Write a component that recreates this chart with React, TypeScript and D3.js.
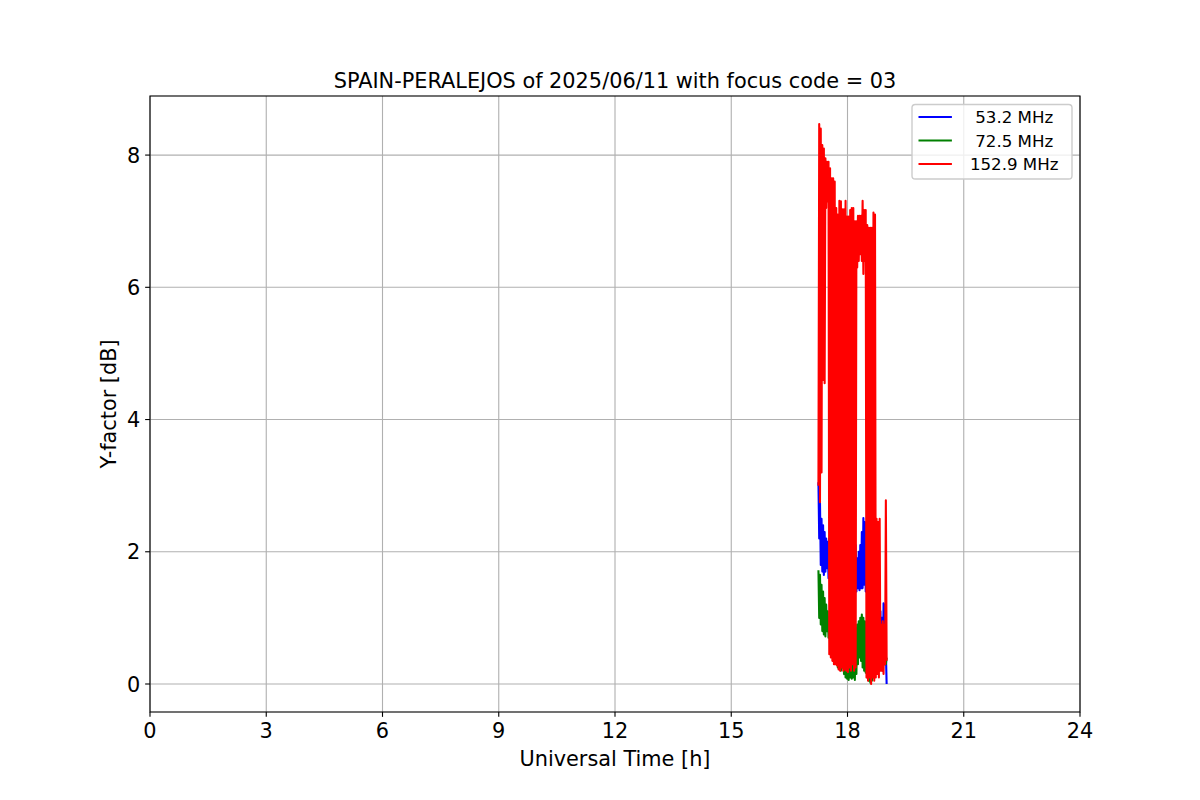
import React from "react";
import * as d3 from "d3";

// Sampling: first sample time (h) and interval between samples (h)
const T0 = 17.25;
const DT = 0.02;

const seriesNames = ["  53.2 MHz", "  72.5 MHz", " 152.9 MHz"];
const seriesColors = ["#0000ff", "#008000", "#ff0000"];

const f053 = [
  3.05, 2.2, 2.75, 1.8, 2.5, 1.7, 2.4, 1.65, 2.3, 1.7,
  2.2, 1.75, 2.15, 1.6, 2.2, 1.5, 2.1, 1.45, 2.0, 1.4,
  2.1, 1.35, 2.0, 1.3, 1.95, 1.25, 2.0, 1.2, 1.9, 1.15,
  2.0, 1.1, 2.13, 1.1, 2.0, 1.05, 2.1, 1.1, 2.2, 1.15,
  2.3, 1.2, 2.53, 1.25, 2.3, 1.3, 2.2, 1.35, 2.1, 1.4,
  1.9, 1.45, 2.0, 1.42, 2.1, 1.45, 2.3, 1.45, 2.51, 1.5,
  2.45, 1.4, 2.2, 1.3, 2.0, 1.2, 1.9, 1.1, 1.8, 1.0,
  1.7, 0.9, 1.5, 0.8, 1.4, 0.6, 1.3, 0.5, 1.2, 0.4,
  1.1, 0.25, 1.0, 0.2, 1.22, 0.3, 1.2, 0.5, 0.0,
];

const f072 = [
  1.72, 1.0, 1.65, 0.9, 1.5, 0.8, 1.4, 0.75, 1.3, 0.72,
  1.2, 0.8, 1.1, 0.7, 1.0, 0.6, 0.95, 0.5, 0.9, 0.4,
  0.85, 0.35, 0.8, 0.3, 0.75, 0.25, 0.7, 0.3, 0.7, 0.2,
  0.65, 0.25, 0.6, 0.15, 0.6, 0.1, 0.55, 0.08, 0.6, 0.06,
  0.65, 0.1, 0.7, 0.08, 0.75, 0.1, 0.8, 0.06, 0.85, 0.15,
  0.9, 0.3, 0.95, 0.4, 1.0, 0.35, 1.05, 0.25, 1.0, 0.2,
  0.95, 0.17, 0.9, 0.1, 0.8, 0.05, 0.7, 0.02, 0.6, 0.05,
  0.6, 0.1, 0.55, 0.15, 0.6, 0.2, 0.55, 0.2, 0.5, 0.25,
  0.6, 0.3, 0.7, 0.25, 0.8, 0.3, 0.85, 0.3, 0.4,
];

const f153 = [
  3.0, 8.47, 2.75, 8.4, 3.2, 8.15, 4.6, 8.1, 4.55, 7.95,
  7.2, 7.9, 7.3, 7.9, 0.45, 7.8, 0.4, 7.65, 0.35, 7.65,
  0.3, 7.6, 0.3, 7.2, 0.28, 7.1, 0.22, 7.31, 0.2, 7.3,
  0.25, 7.18, 0.2, 7.18, 0.22, 7.31, 0.2, 7.07, 0.18, 7.07,
  0.25, 7.17, 0.2, 7.2, 0.3, 7.2, 0.2, 7.0, 0.25, 7.0,
  6.3, 7.08, 6.4, 7.08, 6.5, 7.08, 6.4, 7.31, 6.2, 7.17,
  6.4, 7.17, 0.1, 6.94, 0.05, 6.9, 0.1, 6.9, 0.0, 6.9,
  0.1, 7.13, 0.05, 7.1, 0.1, 2.5, 0.15, 2.45, 0.1, 2.5,
  0.2, 0.9, 0.2, 0.95, 0.15, 0.9, 0.3, 2.78, 0.35,
];

const xTicks = [0, 3, 6, 9, 12, 15, 18, 21, 24];
const yTicks = [0, 2, 4, 6, 8];

const W = 1200;
const H = 800;
const PT = 100 / 72;
const FONT = "'DejaVu Sans', sans-serif";

export default function App() {
  const left = 150, right = 1080, top = 96, bottom = 712;
  const all = [...f053, ...f072, ...f153];
  const [mn, mx] = d3.extent(all) as [number, number];
  const pad = (mx - mn) * 0.05;
  const x = d3.scaleLinear().domain([0, 24]).range([left, right]);
  const y = d3.scaleLinear().domain([mn - pad, mx + pad]).range([bottom, top]);

  const series = [f053, f072, f153];
  const line = d3
    .line<number>()
    .x((_, i) => x(T0 + i * DT))
    .y((d) => y(d));

  const tickLen = 3.5 * PT;
  const tickPad = 3.5 * PT;
  const tickFs = 15 * PT;
  const labelFs = 15 * PT;
  const legFs = 12 * PT;

  const legLeft = 912, legTop = 104.5, legW = 160, legH = 74.5;
  const rowY = [117, 140.5, 164];

  return (
    <div style={{ position: "absolute", left: 0, top: 0 }}>
      <svg width={W} height={H} style={{ display: "block", background: "#fff" }}>
        <rect x={0} y={0} width={W} height={H} fill="#fff" />
        <defs>
          <clipPath id="plotclip">
            <rect x={left} y={top} width={right - left} height={bottom - top} />
          </clipPath>
        </defs>
        {/* grid */}
        <g stroke="#b0b0b0" strokeWidth={0.8 * PT}>
          {xTicks.map((t) => (
            <line key={"gx" + t} x1={x(t)} x2={x(t)} y1={top} y2={bottom} />
          ))}
          {yTicks.map((t) => (
            <line key={"gy" + t} x1={left} x2={right} y1={y(t)} y2={y(t)} />
          ))}
        </g>
        {/* data */}
        <g clipPath="url(#plotclip)" fill="none" strokeWidth={1.5 * PT} strokeLinejoin="round">
          {series.map((s, k) => (
            <path key={k} d={line(s) || ""} stroke={seriesColors[k]} />
          ))}
        </g>
        {/* spines */}
        <rect x={left} y={top} width={right - left} height={bottom - top} fill="none" stroke="#000" strokeWidth={0.8 * PT} />
        {/* x ticks */}
        <g>
          {xTicks.map((t) => (
            <g key={"xt" + t}>
              <line x1={x(t)} x2={x(t)} y1={bottom} y2={bottom + tickLen} stroke="#000" strokeWidth={0.8 * PT} />
              <text x={x(t)} y={bottom + tickLen + tickPad + tickFs * 0.76} textAnchor="middle" fontFamily={FONT} fontSize={tickFs} fill="#000">
                {t}
              </text>
            </g>
          ))}
        </g>
        {/* y ticks */}
        <g>
          {yTicks.map((t) => (
            <g key={"yt" + t}>
              <line x1={left - tickLen} x2={left} y1={y(t)} y2={y(t)} stroke="#000" strokeWidth={0.8 * PT} />
              <text x={left - tickLen - tickPad} y={y(t) + tickFs * 0.36} textAnchor="end" fontFamily={FONT} fontSize={tickFs} fill="#000">
                {t}
              </text>
            </g>
          ))}
        </g>
        {/* labels */}
        <text x={(left + right) / 2} y={88} textAnchor="middle" fontFamily={FONT} fontSize={labelFs} fill="#000">
          SPAIN-PERALEJOS of 2025/06/11 with focus code = 03
        </text>
        <text x={(left + right) / 2} y={766} textAnchor="middle" fontFamily={FONT} fontSize={labelFs} fill="#000">
          Universal Time [h]
        </text>
        <text transform={`translate(116,${(top + bottom) / 2}) rotate(-90)`} textAnchor="middle" fontFamily={FONT} fontSize={labelFs} fill="#000">
          Y-factor [dB]
        </text>
        {/* legend */}
        <rect x={legLeft} y={legTop} width={legW} height={legH} rx={3.3} ry={3.3} fill="#fff" fillOpacity={0.8} stroke="#cccccc" strokeWidth={1 * PT} />
        {seriesNames.map((n, k) => (
          <g key={"lg" + k}>
            <line x1={918.5} x2={951.9} y1={rowY[k]} y2={rowY[k]} stroke={seriesColors[k]} strokeWidth={1.5 * PT} />
            <text x={964.6} y={rowY[k] + legFs * 0.36} fontFamily={FONT} fontSize={legFs} fill="#000" style={{ whiteSpace: "pre" }}>
              {n}
            </text>
          </g>
        ))}
      </svg>
    </div>
  );
}
